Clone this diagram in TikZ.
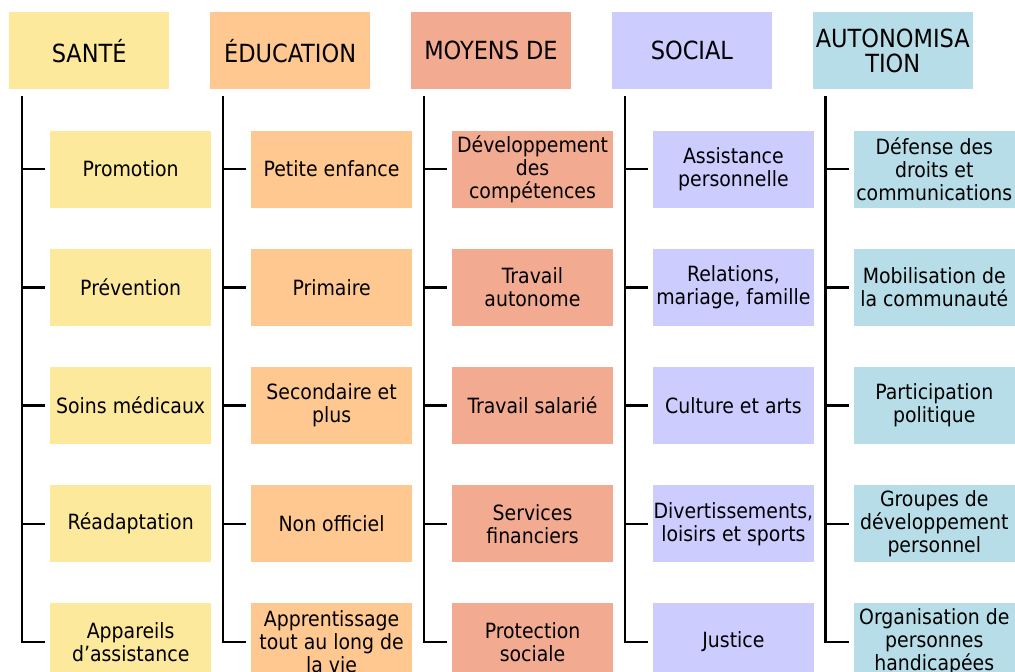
\documentclass[tikz,border=0pt]{standalone}
\usepackage{fontspec}
\setmainfont{DejaVu Sans Condensed}
\usetikzlibrary{positioning}

\definecolor{sante}{RGB}{253,233,155}
\definecolor{educ}{RGB}{255,200,145}
\definecolor{moyens}{RGB}{242,170,145}
\definecolor{social}{RGB}{204,204,255}
\definecolor{autonom}{RGB}{183,222,232}

\tikzset{
  head/.style={fill=#1, minimum width=160pt, minimum height=77pt, inner sep=0pt,
    align=center, font=\fontsize{25}{25}\selectfont},
  item/.style={fill=#1, minimum width=161pt, minimum height=77pt, inner sep=0pt,
    align=center, font=\fontsize{21}{23}\selectfont},
  branch/.style={line width=2.4pt},
}

\begin{document}
\begin{tikzpicture}
    \useasboundingbox (0,0) rectangle (1015pt,-672pt);
    \clip (0,0) rectangle (1015pt,-672pt);

    % headers
    \node[head=sante, anchor=north west]   (sante)   at (9pt,-12pt) {SANTÉ};
    \node[head=educ, right=40.5pt of sante]      (educ)    {ÉDUCATION};
    \node[head=moyens, right=40.5pt of educ]     (moyens)  {MOYENS DE};
    \node[head=social, right=40.5pt of moyens]   (social)  {SOCIAL};
    \node[head=autonom, right=40.5pt of social]  (autonom) {AUTONOMISA\\TION};

    % santé
    \node[item=sante, below right=41pt and 41pt of sante.south west] (sante1) {Promotion};
    \node[item=sante, below=40.8pt of sante1] (sante2) {Prévention};
    \node[item=sante, below=40.8pt of sante2] (sante3) {Soins médicaux};
    \node[item=sante, below=40.8pt of sante3] (sante4) {Réadaptation};
    \node[item=sante, below=40.8pt of sante4] (sante5) {Appareils\\d'assistance};

    % éducation
    \node[item=educ, below right=41pt and 41pt of educ.south west] (educ1) {Petite enfance};
    \node[item=educ, below=40.8pt of educ1] (educ2) {Primaire};
    \node[item=educ, below=40.8pt of educ2] (educ3) {Secondaire et\\plus};
    \node[item=educ, below=40.8pt of educ3] (educ4) {Non officiel};
    \node[item=educ, below=40.8pt of educ4] (educ5) {Apprentissage\\tout au long de\\la vie};

    % moyens de subsistance
    \node[item=moyens, below right=41pt and 41pt of moyens.south west] (moyens1) {Développement\\des\\compétences};
    \node[item=moyens, below=40.8pt of moyens1] (moyens2) {Travail\\autonome};
    \node[item=moyens, below=40.8pt of moyens2] (moyens3) {Travail salarié};
    \node[item=moyens, below=40.8pt of moyens3] (moyens4) {Services\\financiers};
    \node[item=moyens, below=40.8pt of moyens4] (moyens5) {Protection\\sociale};

    % social
    \node[item=social, below right=41pt and 41pt of social.south west] (social1) {Assistance\\personnelle};
    \node[item=social, below=40.8pt of social1] (social2) {Relations,\\mariage, famille};
    \node[item=social, below=40.8pt of social2] (social3) {Culture et arts};
    \node[item=social, below=40.8pt of social3] (social4) {Divertissements,\\loisirs et sports};
    \node[item=social, below=40.8pt of social4] (social5) {Justice};

    % autonomisation
    \node[item=autonom, below right=41pt and 41pt of autonom.south west] (autonom1) {Défense des\\droits et\\communications};
    \node[item=autonom, below=40.8pt of autonom1] (autonom2) {Mobilisation de\\la communauté};
    \node[item=autonom, below=40.8pt of autonom2] (autonom3) {Participation\\politique};
    \node[item=autonom, below=40.8pt of autonom3] (autonom4) {Groupes de\\développement\\personnel};
    \node[item=autonom, below=40.8pt of autonom4] (autonom5) {Organisation de\\personnes\\handicapées};

    % branches
    \foreach \c in {sante,educ,moyens,social,autonom} {
        \coordinate (\c top) at ([xshift=13pt,yshift=-7pt]\c.south west);
        \draw[branch, shorten >=5pt] (\c top) |- (\c5.west);
        \foreach \r in {1,...,4}
            \draw[branch, shorten >=5pt] (\c top |- \c\r.west) -- (\c\r.west);
    }
\end{tikzpicture}
\end{document}
